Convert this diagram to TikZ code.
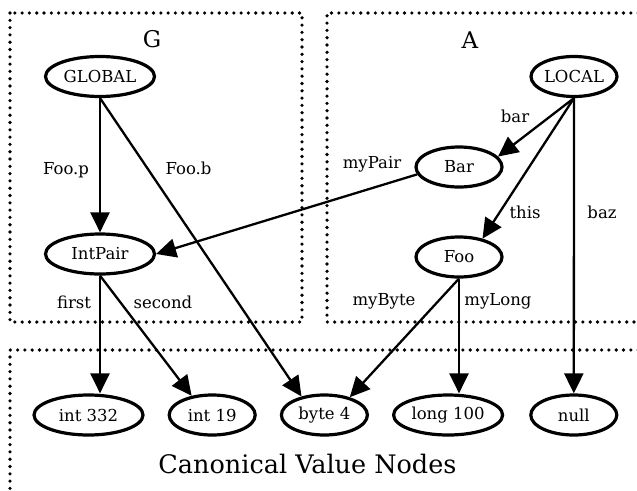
\documentclass[tikz,border=0pt]{standalone}
\usepackage{fontspec}
\setmainfont{DejaVu Serif}
\usetikzlibrary{arrows.meta, positioning, shapes.geometric}

\begin{document}
\begin{tikzpicture}[
   x=1pt, y=-1pt,
   font=\fontsize{16.5}{19}\selectfont,
   node distance=23pt,
   obj/.style={ellipse, draw, line width=3.2pt, inner sep=0pt,
               minimum width=86pt, minimum height=40pt},
   wide/.style={obj, minimum width=109pt},
   lbl/.style={inner sep=0pt, anchor=base},
   area/.style={line width=3.6pt, line cap=round, dash pattern=on 0pt off 7.3pt},
   arr/.style={-{Triangle[length=20pt, width=19pt]}, line width=2.3pt}]
 \useasboundingbox (0,0) rectangle (637,490);
 \clip (0,0) rectangle (637,490);
 \draw[area] (10,13) rectangle (302,322);
 \draw[area] (660,13) -- (327,13) -- (327,322) -- (660,322);
 \draw[area] (660,350) -- (10,350) -- (10,520);
 \node[lbl, font=\fontsize{23}{26}\selectfont] (gname) at (152,47) {G};
 \node[lbl, font=\fontsize{23}{26}\selectfont] (aname) at (470,48) {A};
 \node[wide] (global)  at (100,76.5) {GLOBAL};
 \node[wide] (intpair) at (100,254) {IntPair};
 \node[obj]  (local)   at (574,76.5) {LOCAL};
 \node[obj]  (bar)     at (459,167) {Bar};
 \node[obj]  (foo)     at (459,257) {Foo};
 \node[wide] (int332)  at (88.5,415) {int 332};
 \node[obj, right=of int332] (int19) {int 19};
 \node[obj, right=of int19]  (byte4) {byte 4};
 \node[wide, right=of byte4] (long100) {long 100};
 \node[obj, right=25pt of long100] (null) {null};
 \node[lbl] (lfoop)   at (66,174)  {Foo.p};
 \node[lbl] (lfoob)   at (188.5,174) {Foo.b};
 \node[lbl] (lbar)    at (515,122) {bar};
 \node[lbl] (lmypair) at (372,168) {myPair};
 \node[lbl] (lthis)   at (525,218) {this};
 \node[lbl] (lbaz)    at (602,218) {baz};
 \node[lbl] (lfirst)  at (74,308)  {first};
 \node[lbl] (lsecond) at (163,308) {second};
 \node[lbl] (lmybyte) at (384,305) {myByte};
 \node[lbl] (lmylong) at (498,305) {myLong};
 \node[lbl, font=\fontsize{25.5}{30}\selectfont] (canon) at (307.5,473) {Canonical Value Nodes};
 \draw[arr] (global.south)  -- (intpair.north);
 \draw[arr] (global.south)  -- (byte4.141);
 \draw[arr] (local.south)   -- (bar.15);
 \draw[arr] (local.south)   -- (foo.38);
 \draw[arr] (local.south)   -- (null.north);
 \draw[arr] (bar.190)       -- (intpair.east);
 \draw[arr] (intpair.south) -- (int332.north -| intpair.south);
 \draw[arr] (intpair.south) -- (int19.137);
 \draw[arr] (foo.south)     -- (byte4.35);
 \draw[arr] (foo.south)     -- (long100.north -| foo.south);
\end{tikzpicture}
\end{document}
